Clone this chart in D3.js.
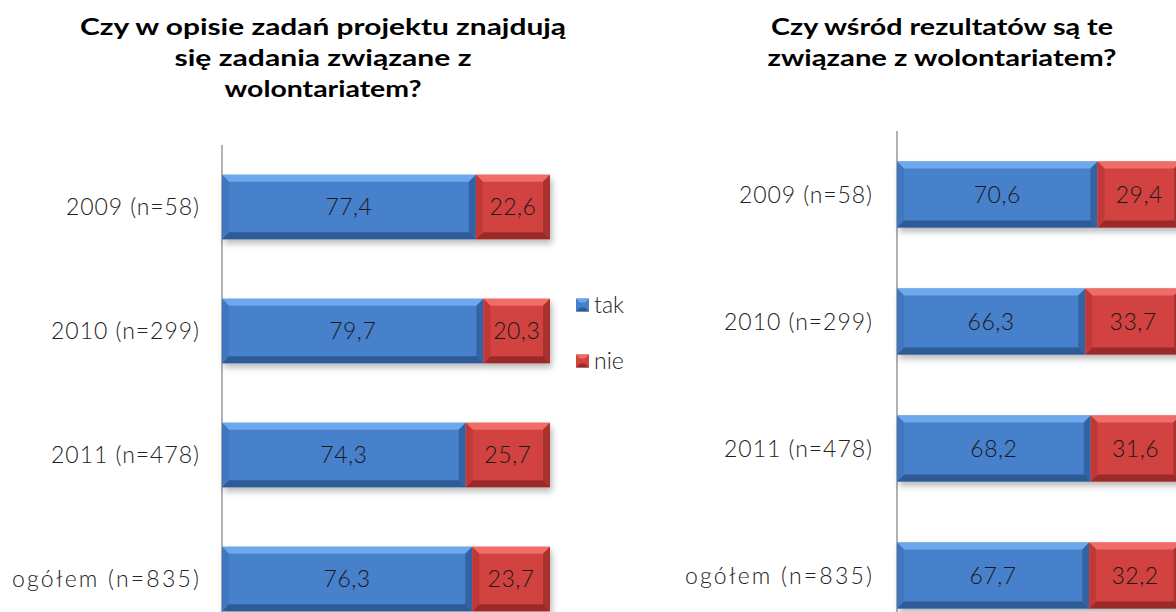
<!DOCTYPE html>
<html><head><meta charset="utf-8">
<script src="https://cdn.jsdelivr.net/npm/d3@7"></script>
<style>
html,body{margin:0;padding:0;background:#fff;overflow:hidden}
svg{display:block}
</style></head>
<body>
<svg id="chart" width="1176" height="612"></svg>
<script>
const categories = ["2009 (n=58)", "2010 (n=299)", "2011 (n=478)", "ogółem (n=835)"];
const series = ["tak", "nie"];
const leftTak = [77.4, 79.7, 74.3, 76.3];
const leftNie = [22.6, 20.3, 25.7, 23.7];
const rightTak = [70.6, 66.3, 68.2, 67.7];
const rightNie = [29.4, 33.7, 31.6, 32.2];
const leftTitle = ["Czy w opisie  zadań projektu znajdują", "się zadania związane z", "wolontariatem?"];
const rightTitle = ["Czy wśród rezultatów są te", "związane z wolontariatem?"];

const colors = {
  tak: {base:"#4680cb", top:"#6ea8ec", bottom:"#2d5a96", side:"#3f76bd"},
  nie: {base:"#d1433f", top:"#f06c67", bottom:"#9a2b29", side:"#bf3936"}
};

const svg = d3.select("#chart");
const defs = svg.append("defs");
const f = defs.append("filter").attr("id","shadow").attr("x","-5%").attr("y","-20%").attr("width","115%").attr("height","160%");
f.append("feDropShadow").attr("dx",2).attr("dy",4).attr("stdDeviation",3).attr("flood-color","#000").attr("flood-opacity",0.28);

const FONT = "'Century Gothic', 'URW Gothic', Lato, 'DejaVu Sans', sans-serif";
const labelWidths = [133, 148, 148, 187];

function bevelBar(g, x0, x1, y0, h, c){
  const b = 7;
  const w = x1 - x0;
  const grp = g.append("g");
  grp.append("rect").attr("x",x0).attr("y",y0).attr("width",w).attr("height",h).attr("fill",c.base);
  grp.append("path").attr("d",`M${x0},${y0}L${x1},${y0}L${x1-b},${y0+b}L${x0+b},${y0+b}Z`).attr("fill",c.top);
  grp.append("path").attr("d",`M${x0},${y0+h}L${x1},${y0+h}L${x1-b},${y0+h-b}L${x0+b},${y0+h-b}Z`).attr("fill",c.bottom);
  grp.append("path").attr("d",`M${x0},${y0}L${x0+b},${y0+b}L${x0+b},${y0+h-b}L${x0},${y0+h}Z`).attr("fill",c.side).attr("opacity",0.9);
  grp.append("path").attr("d",`M${x1},${y0}L${x1-b},${y0+b}L${x1-b},${y0+h-b}L${x1},${y0+h}Z`).attr("fill",c.bottom).attr("opacity",0.75);
  return grp;
}

function panel(opts){
  const {tak, nie, x0, x1, yTop, yBot, labelX, title, titleX, titleWidths} = opts;
  const g = svg.append("g");
  const x = d3.scaleLinear().domain([0,100]).range([x0, x1]);
  const y = d3.scaleBand().domain(categories).range([yTop, yBot]).paddingInner(0.48).paddingOuter(0.24);

  g.append("line").attr("x1",x0).attr("x2",x0).attr("y1",yTop).attr("y2",612)
    .attr("stroke","#888").attr("stroke-width",1.3);

  categories.forEach((cat,i)=>{
    const yy = y(cat), h = y.bandwidth();
    const bars = g.append("g").attr("filter","url(#shadow)");
    bevelBar(bars, x(0), x(tak[i]), yy, h, colors.tak);
    bevelBar(bars, x(tak[i]), x(tak[i]+nie[i]), yy, h, colors.nie);
    g.append("text").attr("x",(x(0)+x(tak[i]))/2).attr("y",yy+h/2).attr("dy","0.35em")
      .attr("text-anchor","middle").attr("font-family",FONT).attr("font-size",23).attr("font-weight",300)
      .attr("letter-spacing",0.5)
      .attr("fill","#1a1a1a").text(d3.format(".1f")(tak[i]).replace(".",","));
    g.append("text").attr("x",(x(tak[i])+x(tak[i]+nie[i]))/2).attr("y",yy+h/2).attr("dy","0.35em")
      .attr("text-anchor","middle").attr("font-family",FONT).attr("font-size",23).attr("font-weight",300)
      .attr("letter-spacing",0.5)
      .attr("fill","#1a1a1a").text(d3.format(".1f")(nie[i]).replace(".",","));
    g.append("text").attr("x",labelX - labelWidths[i]).attr("y",yy+h/2).attr("dy","0.35em")
      .attr("text-anchor","start").attr("font-family",FONT).attr("font-size",23).attr("font-weight",300)
      .attr("textLength",labelWidths[i]).attr("lengthAdjust","spacing")
      .attr("fill","#222").text(cat);
  });

  title.forEach((t,i)=>{
    const tx = g.append("text").attr("x",titleX).attr("y",35+i*31)
      .attr("text-anchor","middle").attr("font-family",FONT).attr("font-size",22).attr("font-weight",700)
      .attr("fill","#000").text(t);
    if (titleWidths && titleWidths[i]) {
      tx.attr("textLength",titleWidths[i]).attr("lengthAdjust","spacingAndGlyphs");
    }
  });
}

panel({tak:leftTak, nie:leftNie, x0:222, x1:550, yTop:145, yBot:641, labelX:199,
  title:leftTitle, titleX:323, titleWidths:[486,297,197]});
panel({tak:rightTak, nie:rightNie, x0:897, x1:1181, yTop:131, yBot:639, labelX:872,
  title:rightTitle, titleX:942, titleWidths:[342,349]});

const legend = svg.append("g");
series.forEach((s,i)=>{
  const ly = 305 + i*56;
  const c = colors[s];
  const lx = 576, sz = 13;
  legend.append("rect").attr("x",lx).attr("y",ly-sz/2).attr("width",sz).attr("height",sz).attr("fill",c.base);
  legend.append("path").attr("d",`M${lx},${ly-sz/2}L${lx+sz},${ly-sz/2}L${lx+sz-4},${ly-sz/2+4}L${lx+4},${ly-sz/2+4}Z`).attr("fill",c.top);
  legend.append("path").attr("d",`M${lx},${ly+sz/2}L${lx+sz},${ly+sz/2}L${lx+sz-4},${ly+sz/2-4}L${lx+4},${ly+sz/2-4}Z`).attr("fill",c.bottom);
  legend.append("text").attr("x",594).attr("y",ly).attr("dy","0.35em")
    .attr("font-family",FONT).attr("font-size",23).attr("font-weight",300).attr("fill","#222").text(s);
});
</script>
</body></html>
